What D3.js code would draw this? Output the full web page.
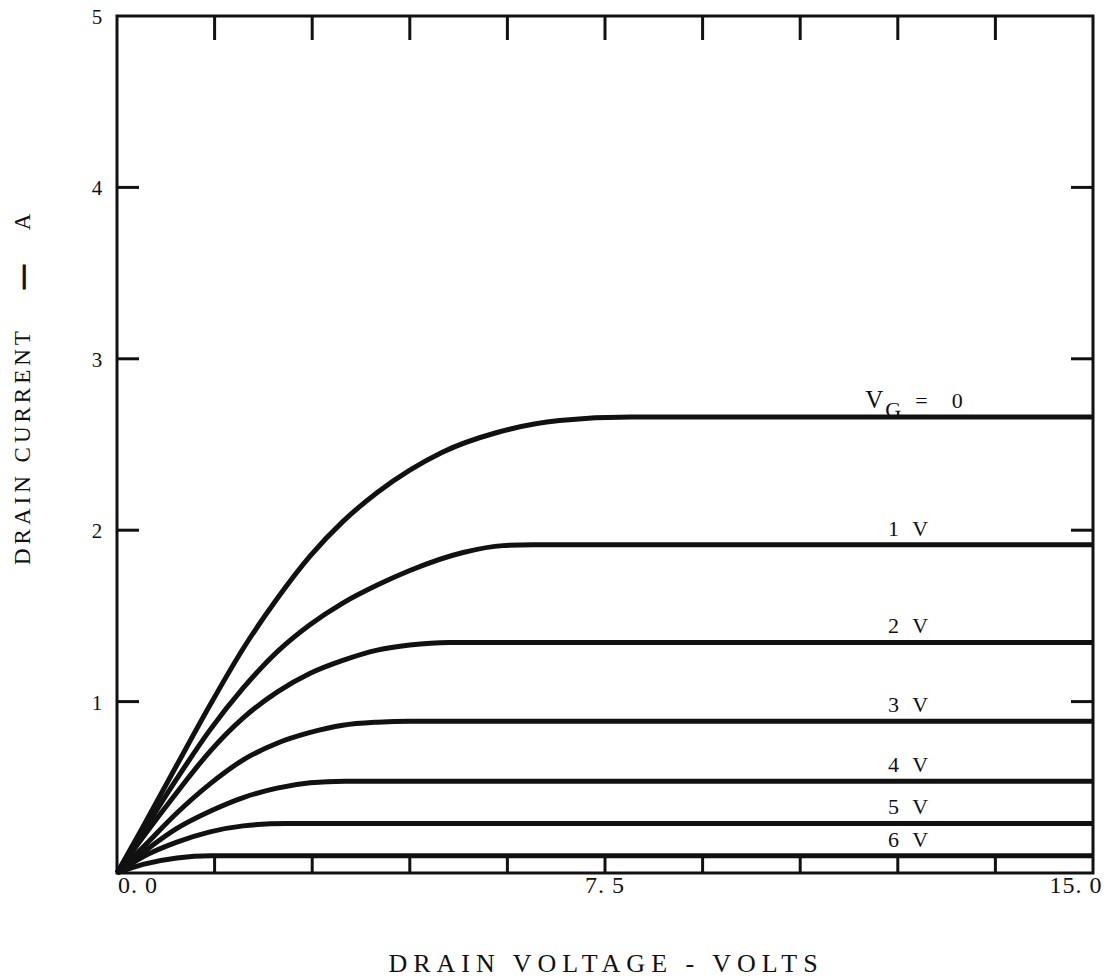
<!DOCTYPE html>
<html>
<head>
<meta charset="utf-8">
<script src="https://cdn.jsdelivr.net/npm/d3@7"></script>
<style>
  html, body { margin: 0; padding: 0; background: #fff; }
  svg { display: block; }
  text { font-family: "Liberation Serif", "DejaVu Serif", serif; fill: #111; }
</style>
</head>
<body>
<svg id="chart" width="1119" height="979"></svg>
<script>
// Drain characteristics: drain current (A) vs drain voltage (V) for each gate voltage
const gateLabels = ["V_G = 0", "1 V", "2 V", "3 V", "4 V", "5 V", "6 V"];

const curveVG0 = [[0,0],[0.4,0.27],[0.92,0.63],[1.43,0.98],[1.94,1.31],[2.46,1.60],[2.97,1.85],[3.47,2.05],[4.0,2.22],[4.5,2.35],[5.0,2.455],[5.84,2.57],[6.8,2.64],[7.9,2.66],[15,2.66]];
const curveVG1 = [[0,0],[0.4,0.24],[0.92,0.55],[1.43,0.835],[1.94,1.08],[2.46,1.29],[2.97,1.45],[3.47,1.575],[4.0,1.68],[4.5,1.765],[5.32,1.87],[5.93,1.91],[6.4,1.915],[15,1.915]];
const curveVG2 = [[0,0],[0.4,0.21],[0.92,0.47],[1.43,0.71],[1.94,0.905],[2.46,1.055],[2.97,1.165],[3.47,1.24],[4.0,1.30],[4.5,1.33],[5.1,1.345],[15,1.345]];
const curveVG3 = [[0,0],[0.4,0.15],[0.92,0.35],[1.43,0.52],[1.94,0.66],[2.46,0.757],[2.97,0.82],[3.47,0.862],[4.0,0.88],[4.5,0.886],[15,0.886]];
const curveVG4 = [[0,0],[0.4,0.12],[0.92,0.26],[1.43,0.36],[1.94,0.44],[2.46,0.495],[2.97,0.526],[3.5,0.536],[15,0.536]];
const curveVG5 = [[0,0],[0.4,0.095],[0.92,0.18],[1.43,0.24],[1.94,0.275],[2.6,0.289],[15,0.289]];
const curveVG6 = [[0,0],[0.4,0.05],[0.92,0.088],[1.45,0.1],[15,0.1]];

const curves = [curveVG0, curveVG1, curveVG2, curveVG3, curveVG4, curveVG5, curveVG6];

const xTickValues = [1.5, 3, 4.5, 6, 7.5, 9, 10.5, 12, 13.5];
const xTickLabels = ["0. 0", "7. 5", "15. 0"];
const xLabelValues = [0, 7.5, 15];
const yTickValues = [1, 2, 3, 4];
const yTickLabels = ["1", "2", "3", "4", "5"];
const yLabelValues = [1, 2, 3, 4, 5];

const svg = d3.select("#chart");
const x = d3.scaleLinear().domain([0, 15]).range([117, 1093]);
const y = d3.scaleLinear().domain([0, 5]).range([873, 16]);

const ink = "#111";

// plot frame
svg.append("rect")
  .attr("x", x(0)).attr("y", y(5))
  .attr("width", x(15) - x(0)).attr("height", y(0) - y(5))
  .attr("fill", "none").attr("stroke", ink).attr("stroke-width", 3);

// inward ticks on all four sides
const tickG = svg.append("g").attr("stroke", ink).attr("stroke-width", 3);
tickG.selectAll(".tt").data(xTickValues).join("line")
  .attr("x1", d => x(d)).attr("x2", d => x(d))
  .attr("y1", y(5)).attr("y2", y(5) + 24);
tickG.selectAll(".tb").data(xTickValues).join("line")
  .attr("x1", d => x(d)).attr("x2", d => x(d))
  .attr("y1", y(0)).attr("y2", y(0) - 15);
tickG.selectAll(".tl").data(yTickValues).join("line")
  .attr("x1", x(0)).attr("x2", x(0) + 22)
  .attr("y1", d => y(d)).attr("y2", d => y(d));
tickG.selectAll(".tr").data(yTickValues).join("line")
  .attr("x1", x(15)).attr("x2", x(15) - 22)
  .attr("y1", d => y(d)).attr("y2", d => y(d));

// curves
const line = d3.line()
  .x(d => x(d[0])).y(d => y(d[1]))
  .curve(d3.curveMonotoneX);
svg.append("g").selectAll("path").data(curves).join("path")
  .attr("d", line)
  .attr("fill", "none").attr("stroke", ink)
  .attr("stroke-width", 5).attr("stroke-linejoin", "round");

// curve labels above the flat part of each curve
const labelG = svg.append("g").attr("font-size", 22);
curves.forEach((c, i) => {
  const level = c[c.length - 1][1];
  const t = labelG.append("text")
    .attr("x", x(11.85))
    .attr("y", y(level) - 9)
    .style("letter-spacing", "4px");
  if (i === 0) {
    t.attr("x", x(11.5)).style("letter-spacing", "0px");
    t.append("tspan").attr("font-size", 25).text("V");
    t.append("tspan").attr("dy", 9).attr("dx", 2).text("G");
    t.append("tspan").attr("dy", -9).attr("dx", 14).text("=");
    t.append("tspan").attr("dx", 24).text("0");
  } else {
    t.text(gateLabels[i]);
  }
});

// axis value labels
const axG = svg.append("g").attr("font-size", 24);
axG.selectAll(".xl").data(xLabelValues).join("text")
  .attr("x", (d, i) => i === 0 ? x(d) + 21 : (i === 2 ? x(d) - 17 : x(d)))
  .attr("y", 893)
  .attr("text-anchor", "middle")
  .style("letter-spacing", "1px")
  .text((d, i) => xTickLabels[i]);
axG.selectAll(".yl").data(yLabelValues).join("text")
  .attr("x", 97)
  .attr("y", d => y(d) + 8)
  .attr("font-size", 21)
  .attr("text-anchor", "middle")
  .text((d, i) => yTickLabels[i]);

// axis titles
svg.append("text")
  .attr("x", 606).attr("y", 972)
  .attr("text-anchor", "middle")
  .attr("font-size", 26)
  .style("letter-spacing", "6px")
  .text("DRAIN VOLTAGE - VOLTS");

const yTitle = svg.append("g")
  .attr("transform", "translate(30,0) rotate(-90)")
  .attr("font-size", 23);
yTitle.append("text")
  .attr("x", -565).attr("y", 0)
  .style("letter-spacing", "4px")
  .text("DRAIN CURRENT");
yTitle.append("text")
  .attr("x", -277).attr("y", 0)
  .attr("text-anchor", "middle")
  .attr("font-weight", "bold")
  .attr("stroke", ink).attr("stroke-width", 1.5)
  .text("—");
yTitle.append("text")
  .attr("x", -222).attr("y", 0)
  .attr("text-anchor", "middle")
  .text("A");
</script>
</body>
</html>
